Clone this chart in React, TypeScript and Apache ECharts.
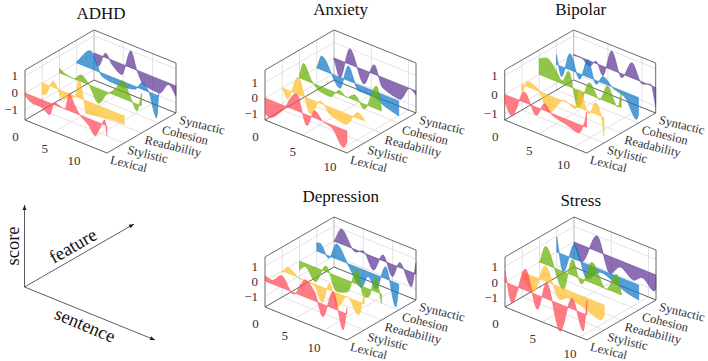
import React, { useEffect, useRef } from "react";
import * as echarts from "echarts";

const features = ["Lexical", "Stylistic", "Readability", "Cohesion", "Syntactic"];
const zTicks = [-1, 0, 1];
const sTicks = [0, 5, 10];
const colors = ["#ff4a57", "#fdbe2a", "#68b004", "#1079c8", "#5f3795"];

const adhd = [
  [[0,-.18],[1.42,-.45],[2.84,-.45],[4.15,-.72],[5.11,.14],[6.25,.02],[6.82,-.02],[7.56,1.03],[8.35,.55],[9.38,0],[10.8,-.38],[11.93,-.87],[12.8,-.3],[13.64,.3],[14,-.58]],
  [[0,-.7],[.57,-.6],[1.9,.37],[3.6,-.5],[4.55,-.2],[5.57,-.07],[6.3,1.05],[7,.17],[7.5,-.75],[9.66,-.64],[12.2,-.52],[14,-.5]],
  [[0,.27],[1,.08],[2.4,0],[3.75,.4],[4.83,.1],[6.65,-.86],[7.95,-.2],[9.45,.35],[10.8,1.03],[12.2,.2],[13.2,-.41],[14,.75]],
  [[0,.08],[2.4,1.04],[3.4,.45],[4.26,-.18],[5.7,-.31],[7.4,-.33],[9.94,-.17],[11.25,.4],[12.2,.07],[13.64,-1.36],[14,.15]],
  [[0,-.3],[.7,-.7],[2,.26],[3.1,-.27],[4.7,-.63],[6.3,.99],[7.4,-.08],[8.5,-.7],[11.1,-.83],[12.8,-.1],[14,-.63]],
];
const anxiety = [
  [[0,-1],[.54,-1.14],[2.2,-.45],[4.24,1.08],[5.6,-.69],[6.7,.47],[7.8,-.02],[8.9,-.16],[10.5,-1.15],[11,-.75]],
  [[0,.04],[.67,-.56],[2.14,1.1],[3.8,-.95],[5.13,.15],[6.5,-.5],[8.5,-.7],[10.2,.38],[11,.1]],
  [[0,.2],[.54,1.05],[1.65,.13],[2.77,-.34],[4.1,-.41],[5.4,.24],[6.3,-.02],[7.45,.34],[8.66,-.32],[10.35,1.48],[11,.17]],
  [[0,0],[.67,.9],[3.1,-.71],[4.24,.95],[5.6,-.39],[7.6,-.39],[9.15,-.72],[11,-.97]],
  [[0,-.1],[.8,-1.1],[2.14,1],[4,-.9],[5.4,.6],[6.5,-.65],[8.84,-.95],[10.2,.01],[11,-.26]],
];
const bipolar = [
  [[0,-.41],[1,-1],[2.9,.55],[4.6,-.44],[5.85,.36],[7,-.09],[9,-.28],[10.8,-.47],[11.7,.25],[12,.82]],
  [[0,-.5],[.88,.29],[2.34,.11],[3.9,-.91],[6.24,.06],[7.8,-.16],[8.44,.96],[9.76,-.13],[10.8,.6],[11.6,.05],[12,-1]],
  [[0,.84],[1.2,1.03],[2.34,.64],[3.37,.14],[4.3,.8],[5.66,-.95],[7.37,.64],[8.83,-.05],[10,.84],[11.5,-.06],[12,.82]],
  [[0,.52],[.73,-.54],[2,.87],[3.37,-.3],[4.6,.93],[5.8,-.21],[6.83,.36],[8.3,-.04],[10,-.28],[11.7,-1.22],[12,-.95]],
  [[0,-.05],[1.07,-.02],[2.3,-.29],[3.27,.12],[4.24,-.5],[5.56,1],[7,-.21],[8.54,.81],[10,-.1],[11.3,.06],[12,-1.04]],
];
const depression = [
  [[0,.36],[1.14,.24],[2.84,.8],[4.83,-.11],[6.93,1.16],[8.5,.58],[9.83,-.83],[11.65,1.12],[13.35,-1.16],[14,.42]],
  [[0,-.09],[1,.4],[3.1,-.04],[5.4,-.09],[6.8,-1.02],[8.07,.44],[9.4,-.9],[11.1,.03],[13,-.89],[14,.71]],
  [[0,-.6],[1,-.22],[2.67,-.96],[4.55,.38],[6.25,-1.02],[8.24,-.76],[9.77,1],[11,-.65],[11.8,-.53],[13,1],[14,-.62]],
  [[0,.55],[.57,.6],[2,-.17],[3.4,1],[5.7,-.31],[7.56,-1.25],[8.8,-.33],[10.1,-.94],[11.76,.8],[13.5,-1.62],[14,-.29]],
  [[0,-.04],[1.3,1],[3.6,-.16],[5,.12],[6.7,-.88],[8.4,.39],[9.94,-.81],[11.25,.33],[13.2,-.97],[14,.75]],
];
const stress = [
  [[0,.71],[.9,-1.16],[2.77,1.35],[4.33,-.92],[5.6,1.03],[7.37,-1.74],[9,.69],[10.5,-1.13],[11,.95]],
  [[0,-.37],[1.47,-.99],[3.1,.99],[5,-.8],[6.25,-.45],[8.5,-.76],[10.5,-1.06],[11,-.71]],
  [[0,-.04],[.85,1.16],[3.17,-1.18],[4.42,.99],[5.6,-.34],[7.05,1.33],[8.93,-.03],[10.36,1.2],[11,.04]],
  [[0,.97],[.85,-1.1],[2.4,.97],[4,-.92],[6,-.17],[7.8,-.47],[9.4,-.81],[11,-.97]],
  [[0,-.1],[1,-1.07],[3.1,.99],[4.8,-1.09],[6.25,-.41],[7.95,-.91],[9.15,-.53],[10.7,-1.08],[11,-.92]],
];

const panels = [
  { name: "ADHD", dx: 0, dy: 0, sMax: 14, zMin: -1.6, zMax: 1.35, tx: 101, ty: 13, curves: adhd },
  { name: "Anxiety", dx: 240, dy: 0, sMax: 11, zMin: -1.42, zMax: 1.8, tx: 340.7, ty: 9, curves: anxiety },
  { name: "Bipolar", dx: 479.7, dy: 0, sMax: 12, zMin: -1.36, zMax: 1.3, tx: 580.7, ty: 9, curves: bipolar },
  { name: "Depression", dx: 240, dy: 187, sMax: 14, zMin: -1.73, zMax: 1.6, tx: 340.7, ty: 196, curves: depression },
  { name: "Stress", dx: 480, dy: 187, sMax: 11, zMin: -1.6, zMax: 1.6, tx: 580.7, ty: 200, curves: stress },
];

const SERIF = '"Liberation Serif", serif';
const W = 82, H = 50, SHEAR = 33 / 82, FX = 17.25, FY = 10;

// monotone cubic curve through the read knots
function spline(pts: number[][]) {
  const n = pts.length;
  const d: number[] = [];
  for (let i = 0; i < n - 1; i++) d.push((pts[i + 1][1] - pts[i][1]) / (pts[i + 1][0] - pts[i][0]));
  const m: number[] = [d[0]];
  for (let i = 1; i < n - 1; i++) {
    if (d[i - 1] * d[i] <= 0) m.push(0);
    else {
      const h0 = pts[i][0] - pts[i - 1][0], h1 = pts[i + 1][0] - pts[i][0];
      m.push((3 * (h0 + h1)) / ((2 * h1 + h0) / d[i - 1] + (h1 + 2 * h0) / d[i]));
    }
  }
  m.push(d[n - 2]);
  const out: number[][] = [];
  for (let i = 0; i < n - 1; i++) {
    const h = pts[i + 1][0] - pts[i][0];
    const steps = Math.max(2, Math.ceil(h * 8));
    for (let j = 0; j < steps; j++) {
      const t = j / steps, t2 = t * t, t3 = t2 * t;
      out.push([
        pts[i][0] + t * h,
        (2 * t3 - 3 * t2 + 1) * pts[i][1] + (t3 - 2 * t2 + t) * h * m[i] + (-2 * t3 + 3 * t2) * pts[i + 1][1] + (t3 - t2) * h * m[i + 1],
      ]);
    }
  }
  out.push(pts[n - 1]);
  return out;
}

function buildOption() {
  const grid: any[] = [], xAxis: any[] = [], yAxis: any[] = [], series: any[] = [];
  panels.forEach((p, pi) => {
    grid.push({ left: p.dx + 25, top: p.dy + 70, width: W, height: H, show: false });
    xAxis.push({ type: "value", gridIndex: pi, min: 0, max: p.sMax, show: false });
    yAxis.push({ type: "value", gridIndex: pi, min: p.zMin, max: p.zMax, show: false });
    const x0 = p.dx + 25;
    const proj = (api: any, s: number, f: number, z: number) => {
      const c = api.coord([s, z]);
      return [c[0] + f * FX, c[1] + (c[0] - x0) * SHEAR - f * FY];
    };
    // frame, grid, tick labels
    series.push({
      type: "custom", xAxisIndex: pi, yAxisIndex: pi, silent: true, clip: false, z: 1,
      data: [[0, 0]],
      renderItem: (_: any, api: any) => {
        const ch: any[] = [];
        const seg = (a: number[], b: number[], stroke: string, lw: number) =>
          ch.push({ type: "line", shape: { x1: a[0], y1: a[1], x2: b[0], y2: b[1] }, style: { stroke, lineWidth: lw } });
        const P = (s: number, f: number, z: number) => proj(api, s, f, z);
        const G = "#dcdcdc", D = "#505050";
        zTicks.forEach((z) => {
          seg(P(0, 0, z), P(0, 4, z), G, 0.8);
          seg(P(0, 4, z), P(p.sMax, 4, z), G, 0.8);
        });
        [1, 2, 3].forEach((f) => {
          seg(P(0, f, p.zMin), P(0, f, p.zMax), G, 0.8);
        });
        [0, 1, 2, 3, 4].forEach((f) => seg(P(0, f, p.zMin), P(p.sMax, f, p.zMin), G, 0.8));
        sTicks.forEach((s) => {
          seg(P(s, 0, p.zMin), P(s, 4, p.zMin), G, 0.8);
          seg(P(s, 4, p.zMin), P(s, 4, p.zMax), s === 0 ? "#c4c4c4" : G, s === 0 ? 1.2 : 0.8);
        });
        seg(P(p.sMax, 4, p.zMin), P(p.sMax, 4, p.zMax), "#5a5a5a", 0.9);
        seg(P(0, 0, p.zMax), P(0, 4, p.zMax), D, 0.85);
        seg(P(0, 4, p.zMax), P(p.sMax, 4, p.zMax), D, 0.85);
        seg(P(0, 0, p.zMin), P(0, 0, p.zMax), D, 0.85);
        seg(P(0, 0, p.zMin), P(p.sMax, 0, p.zMin), D, 0.85);
        seg(P(p.sMax, 0, p.zMin), P(p.sMax, 4, p.zMin), D, 0.85);
        seg(P(0, 0, p.zMin), P(0, 4, p.zMin), D, 0.85);
        seg(P(0, 4, p.zMin), P(p.sMax, 4, p.zMin), D, 0.85);
        const txt = (text: string, x: number, y: number, size: number, align: string, rot = 0) =>
          ch.push({
            type: "text", x, y, rotation: rot,
            style: { text, fill: "#333", font: `${size}px ${SERIF}`, textAlign: align, textVerticalAlign: "middle" },
          });
        zTicks.forEach((z) => {
          const q = P(0, 0, z);
          txt(z < 0 ? "\u2212" + Math.abs(z) : String(z), q[0] - 7, q[1], 13, "right");
        });
        sTicks.forEach((s) => {
          const q = P(s, 0, p.zMin);
          txt(String(s), q[0] - 9.5, q[1] + 16.5, 13, "center");
        });
        features.forEach((f, i) => {
          const q = P(p.sMax, i, p.zMin);
          txt(f, q[0] + 3.5, q[1] + 6.5, 12.5, "left", -0.24);
        });
        return { type: "group", children: ch };
      },
    });
    // ridges, back to front
    for (let k = 4; k >= 0; k--) {
      const knots = p.curves[k];
      series.push({
        type: "custom", name: features[k], xAxisIndex: pi, yAxisIndex: pi, silent: true, clip: false, z: 2 + (4 - k),
        data: knots,
        encode: { x: 0, y: 1 },
        renderItem: (params: any, api: any) => {
          if (params.dataIndex !== 0) return null;
          const top = spline(knots).map((q) => proj(api, q[0], k, q[1]));
          const end = proj(api, p.sMax, k, 0), start = proj(api, 0, k, 0);
          return {
            type: "polygon",
            shape: { points: [...top, end, start] },
            style: { fill: colors[k], opacity: 0.72, stroke: colors[k], lineWidth: 0.6 },
          };
        },
      });
    }
  });

  const graphic: any[] = [];
  panels.forEach((p) =>
    graphic.push({
      type: "text", x: p.tx, y: p.ty, silent: true,
      style: { text: p.name, fill: "#111", font: `17px ${SERIF}`, textAlign: "center", textVerticalAlign: "middle" },
    })
  );
  const O = [24.5, 287];
  const arrow = (to: number[]) => {
    const a = Math.atan2(to[1] - O[1], to[0] - O[0]);
    const L = 5, Wd = 2;
    graphic.push({ type: "line", silent: true, shape: { x1: O[0], y1: O[1], x2: to[0], y2: to[1] }, style: { stroke: "#333", lineWidth: 0.8 } });
    const b = [to[0] - L * Math.cos(a), to[1] - L * Math.sin(a)];
    graphic.push({
      type: "polygon", silent: true,
      shape: { points: [to, [b[0] - Wd * Math.sin(a), b[1] + Wd * Math.cos(a)], [b[0] + Wd * Math.sin(a), b[1] - Wd * Math.cos(a)]] },
      style: { fill: "#222" },
    });
  };
  arrow([24.5, 205]);
  arrow([134, 224]);
  arrow([155, 340]);
  const lab = (text: string, x: number, y: number, rot: number) =>
    graphic.push({
      type: "text", x, y, rotation: rot, silent: true,
      style: { text, fill: "#111", font: `18.5px ${SERIF}`, textAlign: "center", textVerticalAlign: "middle" },
    });
  lab("score", 13, 246, Math.PI / 2);
  lab("feature", 73, 246, 0.52);
  lab("sentence", 85, 325, -0.4);

  return { animation: false, backgroundColor: "#fff", grid, xAxis, yAxis, series, graphic };
}

export default function App() {
  const ref = useRef<HTMLDivElement>(null);
  useEffect(() => {
    document.body.style.margin = "0";
    const chart = echarts.init(ref.current!, undefined, { renderer: "svg" });
    chart.setOption(buildOption() as any);
    return () => chart.dispose();
  }, []);
  return <div ref={ref} style={{ width: 708, height: 361 }} />;
}
